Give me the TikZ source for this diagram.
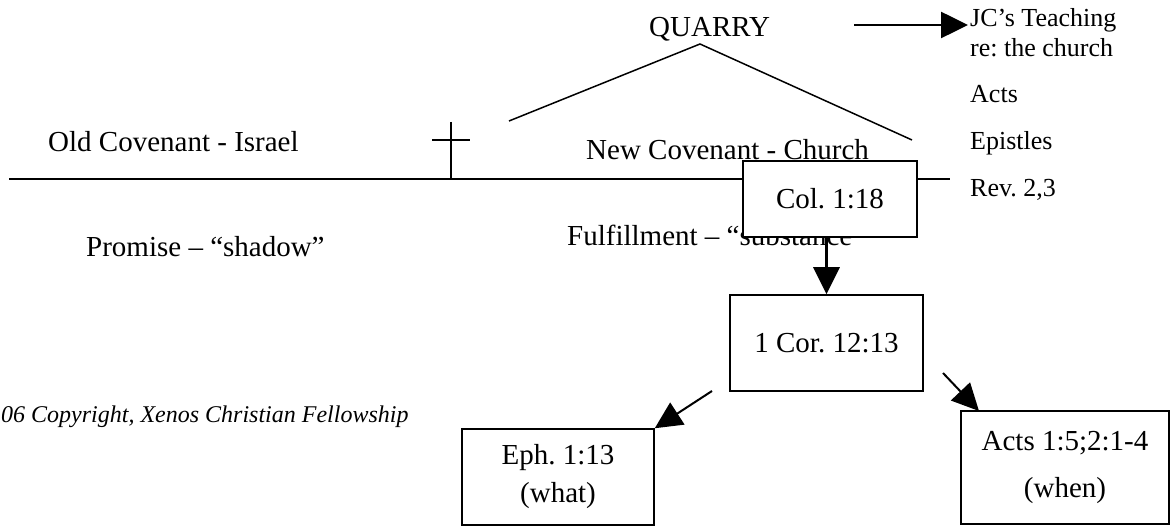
\documentclass[tikz,border=0pt]{standalone}
\usepackage{fontspec}
\setmainfont{Liberation Serif}
\usetikzlibrary{arrows.meta}
\frenchspacing
\begin{document}
\begin{tikzpicture}[x=1pt,y=-1pt,
  txt/.style={inner sep=0pt, anchor=base west, font=\fontsize{29}{34}\selectfont},
  side/.style={inner sep=0pt, anchor=base west, font=\fontsize{26}{30}\selectfont},
  refbox/.style={draw, line width=1.5pt, fill=white, inner sep=0pt, align=center,
                 font=\fontsize{29}{34}\selectfont},
  arr/.style={line width=2pt, -{Triangle[length=27pt,width=26pt]}},
  thinline/.style={line width=1.5pt},
  thickline/.style={line width=2pt}]
\useasboundingbox (0,0) rectangle (1171,526);

% timeline and cross
\coordinate (tlA) at (9,179);
\coordinate (tlB) at (950,179);
\draw[thickline] (tlA) -- (tlB);
\coordinate (crT) at (451,122);
\coordinate (crB) at (451,179);
\coordinate (crL) at (432,140);
\coordinate (crR) at (470,140);
\draw[thickline] (crT) -- (crB);
\draw[thickline] (crL) -- (crR);

% roof
\coordinate (rfL) at (509,121);
\coordinate (rfP) at (700,44);
\coordinate (rfR) at (912,140);
\draw[thinline] (rfL) -- (rfP) -- (rfR);

% texts
\node[txt] (quarry) at (649,37) {QUARRY};
\node[txt] (oldc) at (48,152) {Old Covenant - Israel};
\node[txt] (newc) at (586,160) {New Covenant - Church};
\node[txt] (prom) at (86,257) {Promise – “shadow”};
\node[txt] (fulf) at (567,246) {Fulfillment – “substance”};

\node[side] (jc) at (970,27) {JC’s Teaching};
\node[side] (re) at (970,57) {re: the church};
\node[side] (acts) at (970,103) {Acts};
\node[side] (epi) at (970,150) {Epistles};
\node[side] (rev) at (970,197) {Rev. 2,3};

\node[inner sep=0pt, anchor=base west, font=\fontsize{24}{28}\selectfont\itshape]
  (copy) at (1,423) {06 Copyright, Xenos Christian Fellowship};

% boxes
\node[refbox, minimum width=174pt, minimum height=76pt] (col) at (830,199) {Col. 1:18};
\node[refbox, minimum width=193pt, minimum height=96pt] (cor) at (826.5,343) {1 Cor. 12:13};
\node[refbox, minimum width=192pt, minimum height=96pt] (eph) at (558,477)
  {Eph. 1:13\\[4pt](what)};
\node[refbox, minimum width=208pt, minimum height=113pt] (actsb) at (1065,467.5)
  {Acts 1:5;2:1-4\\[13pt](when)};

% arrows
\coordinate (qa) at (854,25);
\draw[arr, line width=2.6pt] (qa) -- ([xshift=-2pt,yshift=2pt]jc.base west);
\draw[arr, line width=3.5pt] (cor.north |- col.south) -- (cor.north);
\coordinate (ephS) at (712,391);
\draw[arr] (ephS) -- (eph.north east);
\coordinate (actS) at (943,373);
\coordinate (actT) at (979,411);
\draw[arr] (actS) -- (actT);
\end{tikzpicture}
\end{document}
